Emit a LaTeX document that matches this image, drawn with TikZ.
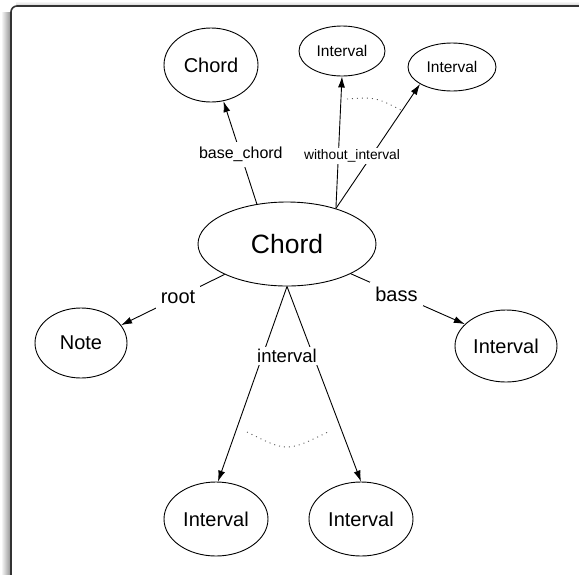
\documentclass[tikz,border=0pt]{standalone}
\usepackage{fontspec}
\setmainfont{Liberation Sans}
\usetikzlibrary{arrows.meta,shapes.geometric}

\tikzset{
  cls/.style={draw, ellipse, line width=0.9pt, inner sep=0pt},
  bigtxt/.style={font=\fontsize{26.5}{30}\selectfont},
  midtxt/.style={font=\fontsize{20}{24}\selectfont},
  smalltxt/.style={font=\fontsize{15.5}{18}\selectfont},
  rel/.style={draw, line width=0.9pt, -{Latex[length=11pt,width=7pt]}},
  lbl/.style={fill=white, inner sep=5pt},
  alt/.style={line width=0.9pt, black!65, dash pattern=on 1pt off 4pt}
}

\begin{document}
\begin{tikzpicture}[x=1pt,y=-1pt]
  \useasboundingbox (0,0) rectangle (579,574);
  % frame
  \shade[left color=white, right color=black!40] (1,12) rectangle (10,574);
  \shade[top color=white, bottom color=black!15] (16,1) rectangle (579,5);
  \draw[line width=1.6pt, black!80, rounded corners=6pt]
    (11,580) -- (11,6) -- (585,6);

  \node[cls, bigtxt, minimum width=178pt, minimum height=84pt] (chord) at (287,244) {Chord};
  \node[cls, midtxt, minimum width=94pt, minimum height=74pt] (base) at (211,65) {Chord};
  \node[cls, smalltxt, minimum width=86pt, minimum height=50pt] (wint1) at (342,51) {Interval};
  \node[cls, smalltxt, minimum width=88pt, minimum height=48pt] (wint2) at (452,67) {Interval};
  \node[cls, midtxt, minimum width=92pt, minimum height=70pt] (note) at (81,343) {Note};
  \node[cls, midtxt, minimum width=102pt, minimum height=72pt] (bass) at (506,346) {Interval};
  \node[cls, midtxt, minimum width=104pt, minimum height=74pt] (int1) at (216,519) {Interval};
  \node[cls, midtxt, minimum width=104pt, minimum height=74pt] (int2) at (361,519) {Interval};

  \begin{scope}[rel]
    \draw (chord.127) to node[lbl, font=\fontsize{16}{19}\selectfont, pos=0.48] (bclbl) {base\_chord} (base.-71);
    \draw (chord.36) to (wint1.south);
    \draw (chord.36) to (wint2.-152);
    \draw (chord.-154) to node[lbl, midtxt, pos=0.45] (rootlbl) {root} (note.24);
    \draw (chord.-25) to node[lbl, midtxt, pos=0.4] (basslbl) {bass} (bass.152);
    \draw (chord.south) to (int1.87);
    \draw (chord.south) to (int2.north);
  \end{scope}
  \node[lbl, inner sep=2pt, font=\fontsize{13.8}{16}\selectfont] (wlbl) at (352,156) {without\_interval};
  \node[lbl, inner sep=2pt, font=\fontsize{18.5}{22}\selectfont] (ilbl) at (287,356) {interval};

  % alternatives
  \draw[alt] (347,99) .. controls (375,97) .. (401,110);
  \draw[alt] (247,432) .. controls (287,452) .. (328,432);
\end{tikzpicture}
\end{document}
